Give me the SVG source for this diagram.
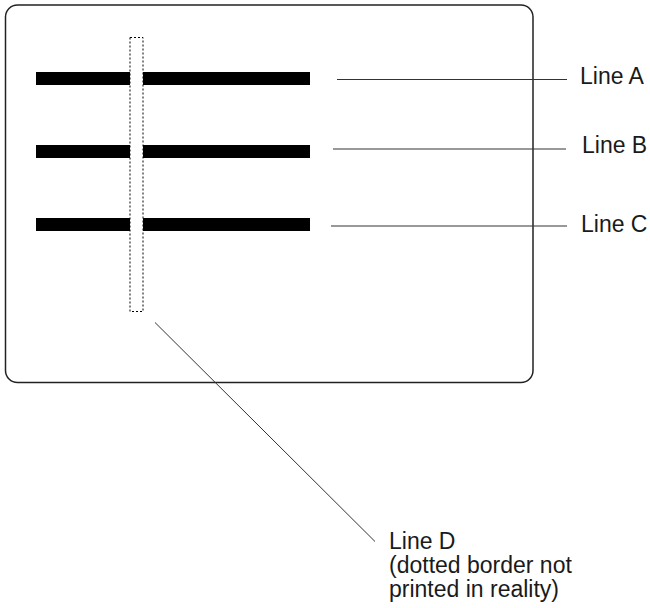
<svg xmlns="http://www.w3.org/2000/svg" width="650" height="608" viewBox="0 0 650 608">
<style>
.lbl{font-family:"Liberation Sans",Arial,sans-serif;font-size:23px;fill:#1a1a1a}
.bar{fill:#000}
.lead{stroke:#333;stroke-width:1;fill:none}
</style>
<rect width="650" height="608" fill="#fff"/>
<g id="card">
<rect x="5.5" y="5" width="527.5" height="377.5" rx="12" ry="12" fill="#fff" stroke="#222" stroke-width="1.5"/>
</g>
<g id="lineA"><rect class="bar" x="36" y="72" width="274" height="13"/></g>
<g id="lineB"><rect class="bar" x="36" y="145" width="274" height="13"/></g>
<g id="lineC"><rect class="bar" x="36" y="218" width="274" height="13"/></g>
<g id="lineD"><rect x="130" y="37.5" width="13" height="274" fill="#fff" stroke="#000" stroke-width="1" stroke-dasharray="2,2"/></g>
<g id="connectors">
<line class="lead" x1="337" y1="79.5" x2="567" y2="79.5" stroke="#777"/>
<line class="lead" x1="333" y1="149" x2="566" y2="149"/>
<line class="lead" x1="331" y1="226" x2="567" y2="226"/>
<line class="lead" x1="155" y1="322.5" x2="375" y2="541.5"/>
</g>
<g id="labelA"><text class="lbl" x="580" y="83.5">Line A</text></g>
<g id="labelB"><text class="lbl" x="582" y="153">Line B</text></g>
<g id="labelC"><text class="lbl" x="581" y="232">Line C</text></g>
<g id="labelD"><text class="lbl" x="389" y="549"><tspan x="389">Line D</tspan><tspan x="389" y="573">(dotted border not</tspan><tspan x="389" y="597">printed in reality)</tspan></text></g>
</svg>
